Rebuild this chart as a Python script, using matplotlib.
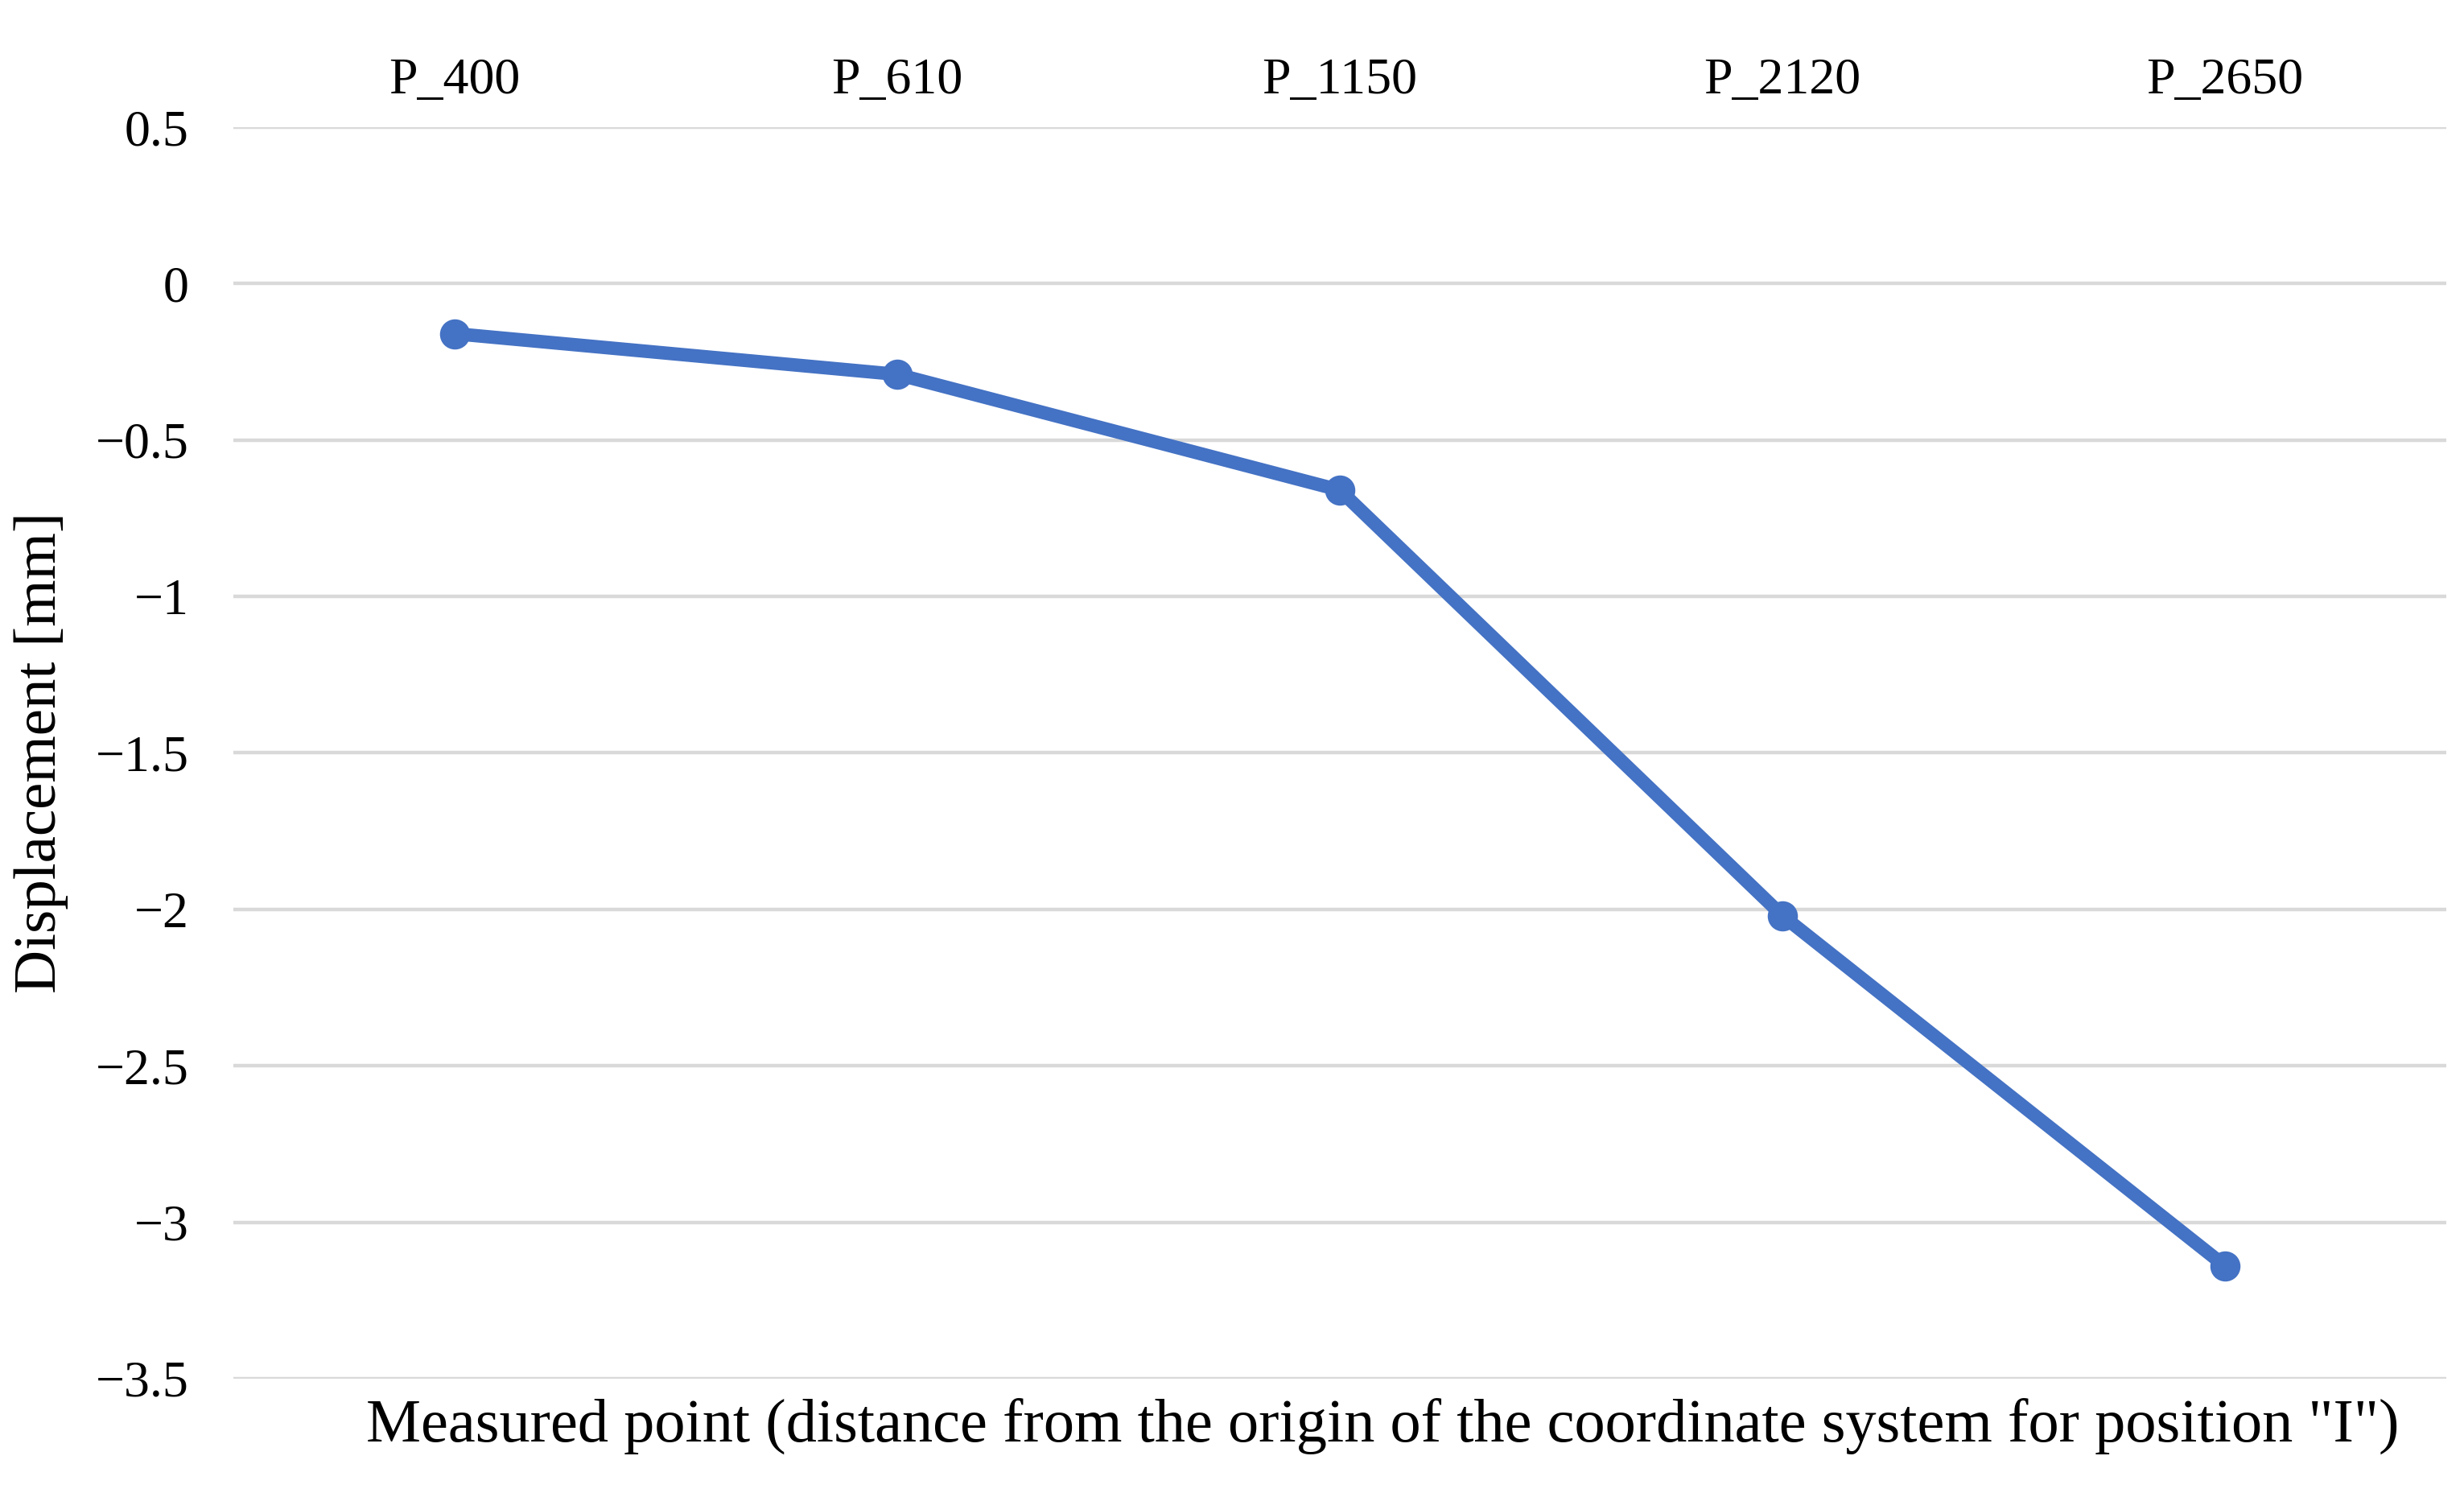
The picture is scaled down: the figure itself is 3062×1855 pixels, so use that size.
import numpy as np
import matplotlib.pyplot as plt

points = ["P_400", "P_610", "P_1150", "P_2120", "P_2650"]
displacement = [-0.16, -0.29, -0.66, -2.02, -3.14]
yticks = [0.5, 0, -0.5, -1, -1.5, -2, -2.5, -3, -3.5]
ytick_labels = ["0.5", "0", "\u22120.5", "\u22121", "\u22121.5", "\u22122", "\u22122.5", "\u22123", "\u22123.5"]

plt.rcParams['font.family'] = ['Liberation Serif', 'DejaVu Serif']

fig = plt.figure(figsize=(15.31, 9.275), dpi=200)
ax = fig.add_axes([0.0947, 0.0766, 0.8981, 0.8382])

x = np.arange(len(points))
ax.plot(x, displacement, color='#4472C4', lw=6, marker='o', ms=12.5,
        solid_capstyle='round', zorder=3)

ax.set_xlim(-0.5, len(points) - 0.5)
ax.set_ylim(-3.5, 0.5)
ax.set_yticks(yticks)
ax.set_yticklabels(ytick_labels)
ax.set_xticks(x)
ax.set_xticklabels(points)
ax.xaxis.tick_top()
ax.tick_params(axis='both', length=0, labelsize=23)
ax.tick_params(axis='y', pad=20)
ax.tick_params(axis='x', pad=10)
for s in ax.spines.values():
    s.set_visible(False)
ax.grid(axis='y', color='#D9D9D9', lw=1.6)
ax.set_axisbelow(True)

ax.set_ylabel("Displacement [mm]", fontsize=27, labelpad=12)
fig.text(0.561, 0.044, "Measured point (distance from the origin of the coordinate system for position \"I\")",
         ha='center', va='center', fontsize=27.5)

fig.savefig("out.png", dpi=200)
